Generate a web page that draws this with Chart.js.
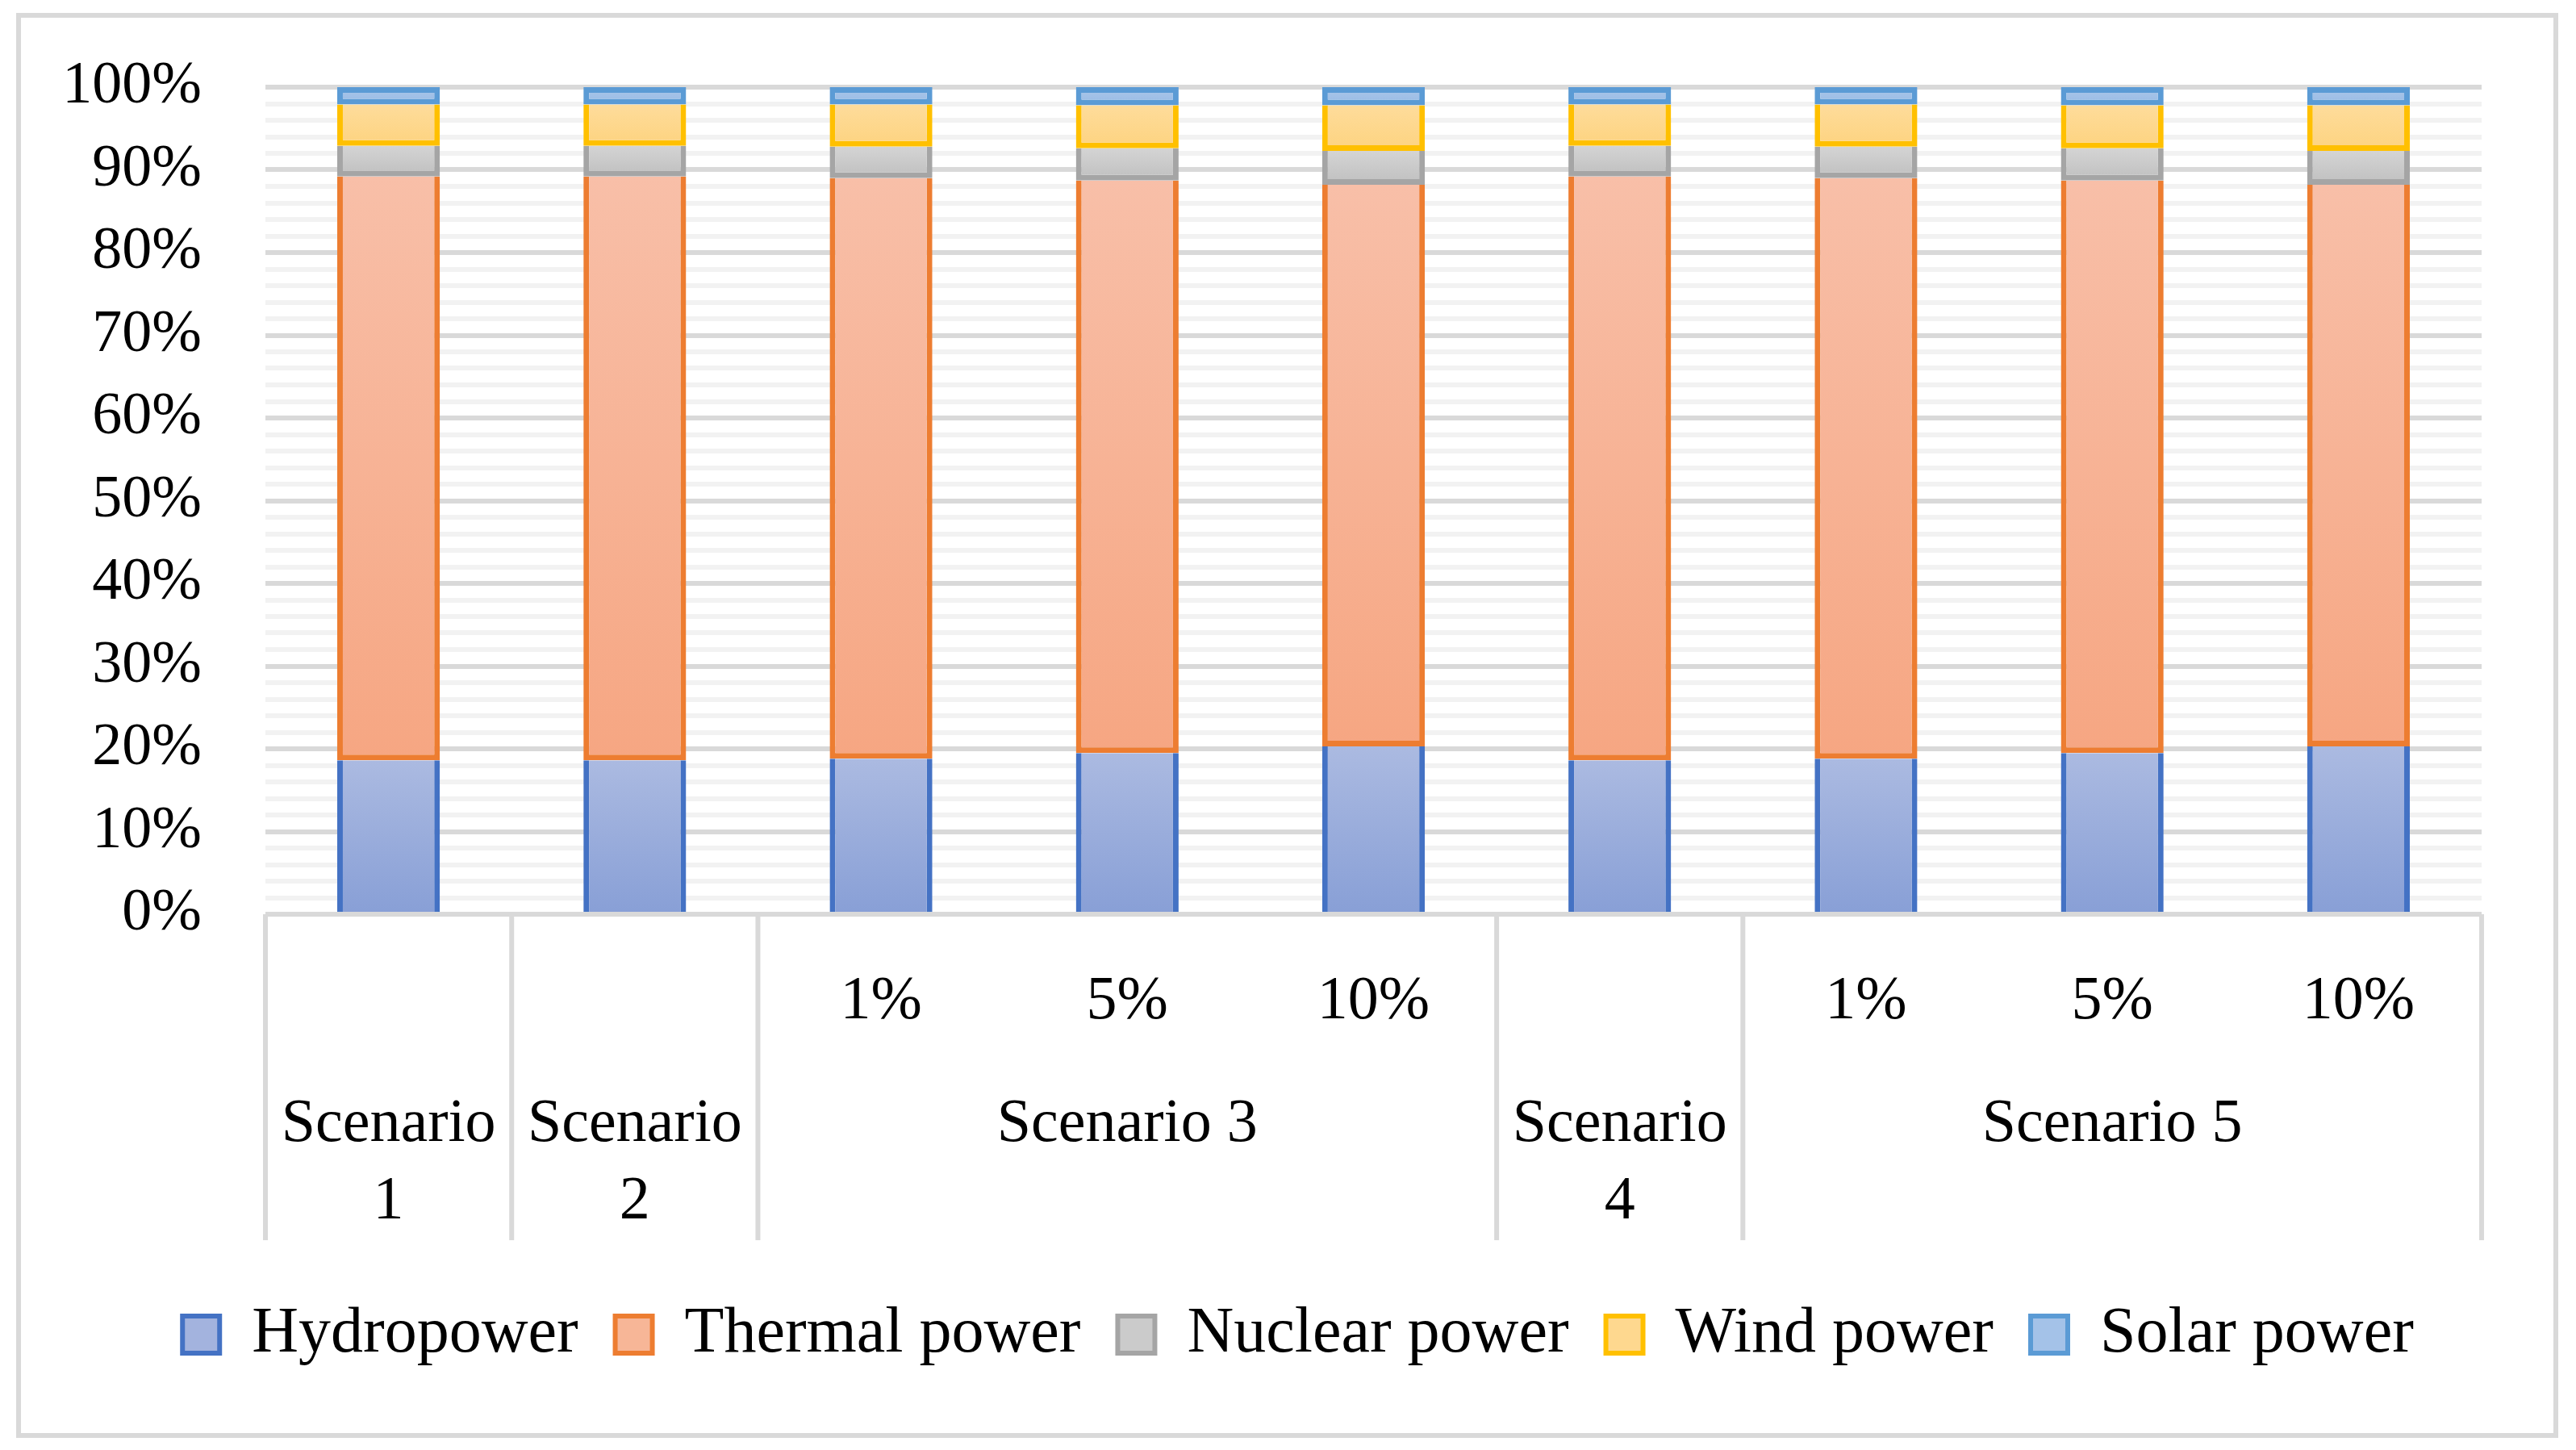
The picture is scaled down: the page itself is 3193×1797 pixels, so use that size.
<!DOCTYPE html>
<html>
<head>
<meta charset="utf-8">
<script src="https://cdn.jsdelivr.net/npm/chart.js@4.4.1/dist/chart.umd.min.js"></script>
<style>
  html, body { margin: 0; padding: 0; background: #fff; }
  #box {
    position: absolute; left: 20px; top: 16px;
    width: 3151px; height: 1766px;
    box-sizing: border-box; border: 6px solid #d9d9d9; background: #fff;
  }
</style>
</head>
<body>
<div id="box"><canvas id="chart"></canvas></div>
<script>
// sub labels under each bar, then the scenario groups they belong to
const categories = ["", "", "1%", "5%", "10%", "", "1%", "5%", "10%"];
const groupLabels = [["Scenario", "1"], ["Scenario", "2"], ["Scenario 3"], ["Scenario", "4"], ["Scenario 5"]];
const groupSpans = [1, 1, 3, 1, 3];

// shares in %
const hydropower   = [18.6, 18.6, 18.8, 19.5, 20.3, 18.6, 18.8, 19.5, 20.3];
const thermalPower = [70.6, 70.6, 70.2, 69.2, 67.9, 70.6, 70.2, 69.2, 67.9];
const nuclearPower = [3.7, 3.7, 3.8, 3.9, 4.1, 3.7, 3.8, 3.9, 4.1];
const windPower    = [5.0, 5.0, 5.1, 5.2, 5.5, 5.0, 5.1, 5.2, 5.5];
const solarPower   = [2.1, 2.1, 2.1, 2.2, 2.2, 2.1, 2.1, 2.2, 2.2];

const FONT = "'Liberation Serif', 'Times New Roman', serif";
const BW = 7;

// light-to-dark gradient over each stacked segment
function segmentFill(top, bottom) {
  return (c) => {
    const chart = c.chart;
    const y = chart.scales.y;
    if (!chart.chartArea || !y || c.type !== "data") return bottom;
    let start = 0;
    for (let k = 0; k < c.datasetIndex; k++) start += chart.data.datasets[k].data[c.dataIndex];
    const end = start + chart.data.datasets[c.datasetIndex].data[c.dataIndex];
    const g = chart.ctx.createLinearGradient(0, y.getPixelForValue(end), 0, y.getPixelForValue(start));
    g.addColorStop(0, top);
    g.addColorStop(1, bottom);
    return g;
  };
}

const sideBorder = { top: 0, left: BW, right: BW, bottom: 0 };
const lowerBorder = { top: 0, left: BW, right: BW, bottom: BW };
const fullBorder = { top: BW, left: BW, right: BW, bottom: BW };

const legendFills = ["#a3b3de", "#f7b697", "#cbcbcb", "#fed88f", "#a4c2e8"];

// draws the scenario row and the separators of the category axis
const groupAxis = {
  id: "groupAxis",
  afterDraw(chart) {
    const ctx = chart.ctx;
    const x = chart.scales.x;
    const area = chart.chartArea;
    const half = (x.getPixelForValue(1) - x.getPixelForValue(0)) / 2;
    const lineEnd = area.bottom + 404;
    ctx.save();
    ctx.strokeStyle = "#d9d9d9";
    ctx.lineWidth = 6;
    let idx = 0;
    const edges = [x.getPixelForValue(0) - half];
    groupSpans.forEach((span, g) => {
      const first = x.getPixelForValue(idx);
      const last = x.getPixelForValue(idx + span - 1);
      const cx = (first + last) / 2;
      ctx.fillStyle = "#000";
      ctx.font = "76px " + FONT;
      ctx.textAlign = "center";
      ctx.textBaseline = "middle";
      groupLabels[g].forEach((line, n) => {
        ctx.fillText(line, cx, area.bottom + 261 + n * 96);
      });
      idx += span;
      edges.push(last + half);
    });
    edges.forEach((ex) => {
      ctx.beginPath();
      ctx.moveTo(ex, area.bottom);
      ctx.lineTo(ex, lineEnd);
      ctx.stroke();
    });
    ctx.restore();
  }
};

new Chart(document.getElementById("chart"), {
  type: "bar",
  data: {
    labels: categories,
    datasets: [
      { label: "Hydropower", data: hydropower, backgroundColor: segmentFill("#abbae1", "#889fd6"), borderColor: "#4472c4", borderWidth: sideBorder },
      { label: "Thermal power", data: thermalPower, backgroundColor: segmentFill("#f8bfa8", "#f6a682"), borderColor: "#ed7d31", borderWidth: lowerBorder },
      { label: "Nuclear power", data: nuclearPower, backgroundColor: segmentFill("#d4d4d4", "#bfbfbf"), borderColor: "#a5a5a5", borderWidth: lowerBorder },
      { label: "Wind power", data: windPower, backgroundColor: segmentFill("#fedc9b", "#fdd37f"), borderColor: "#ffc000", borderWidth: lowerBorder },
      { label: "Solar power", data: solarPower, backgroundColor: segmentFill("#abc7e9", "#97bae5"), borderColor: "#5b9bd5", borderWidth: fullBorder }
    ]
  },
  options: {
    responsive: true,
    maintainAspectRatio: false,
    animation: false,
    layout: { padding: { top: 86, right: 0, left: 27, bottom: 72 } },
    datasets: {
      bar: { barPercentage: 0.417, categoryPercentage: 1, borderSkipped: false }
    },
    scales: {
      x: {
        stacked: true,
        grid: { display: false },
        border: { display: false },
        ticks: {
          color: "#000",
          font: { family: FONT, size: 76 },
          padding: 55,
          maxRotation: 0,
          autoSkip: false
        },
        afterFit: (s) => { s.height = 435; }
      },
      y: {
        stacked: true,
        min: 0,
        max: 100,
        border: { display: false },
        grid: {
          drawTicks: false,
          lineWidth: 6,
          color: (c) => (c.tick && c.tick.value % 10 === 0 ? "#d9d9d9" : "#f2f2f2")
        },
        ticks: {
          stepSize: 2,
          autoSkip: false,
          padding: 79,
          color: "#000",
          font: { family: FONT, size: 74 },
          callback: (v) => (v % 10 === 0 ? v + "%" : "")
        },
        afterFit: (s) => {
          s.width = 276;
          s.paddingTop = 0;
          s.paddingBottom = 0;
        }
      },
      // empty right gutter so the plot ends where the original does
      gutter: {
        position: "right",
        grid: { display: false },
        border: { display: false },
        ticks: { display: false },
        afterFit: (s) => {
          s.width = 89;
          s.paddingTop = 0;
          s.paddingBottom = 0;
        }
      }
    },
    plugins: {
      tooltip: { enabled: false },
      legend: {
        position: "bottom",
        labels: {
          color: "#000",
          font: { family: FONT, size: 80 },
          boxWidth: 46,
          boxHeight: 46,
          padding: 46,
          generateLabels: (chart) =>
            Chart.defaults.plugins.legend.labels.generateLabels(chart).map((l, i) => ({
              ...l, fillStyle: legendFills[i], lineWidth: 6
            }))
        }
      }
    }
  },
  plugins: [groupAxis]
});
</script>
</body>
</html>
